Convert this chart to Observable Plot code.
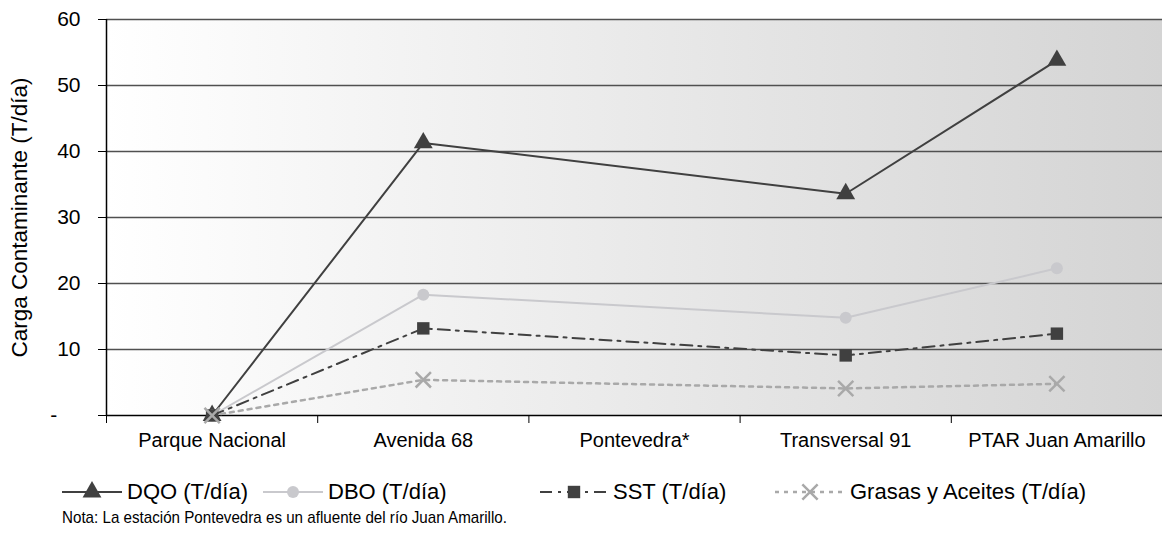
<!DOCTYPE html>
<html><head><meta charset="utf-8">
<script src="https://cdn.jsdelivr.net/npm/d3@7"></script>
<script src="https://cdn.jsdelivr.net/npm/@observablehq/plot@0.6"></script>
<style>
body{margin:0;background:#fff;font-family:"Liberation Sans",Arial,sans-serif;}
#wrap{position:relative;width:1162px;height:543px;overflow:hidden;}
#chart{position:absolute;left:0;top:0;}
.leg{position:absolute;top:478px;height:28px;display:flex;align-items:center;font-size:22px;color:#000;white-space:nowrap;}
.leg svg{display:block;margin-right:5px;}
#note{position:absolute;left:62px;top:508px;font-family:"Liberation Sans Narrow","Liberation Sans",Arial,sans-serif;font-size:17px;color:#000;white-space:nowrap;transform-origin:0 0;}
</style>
</head><body><div id="wrap"><div id="chart"></div><div id="legend"></div><div id="note"></div></div>
<script>
const categories = ["Parque Nacional", "Avenida 68", "Pontevedra*", "Transversal 91", "PTAR Juan Amarillo"];
const seriesNames = ["DQO (T/día)", "DBO (T/día)", "SST (T/día)", "Grasas y Aceites (T/día)"];
const dqo = [0, 41.3, null, 33.6, 53.8];
const dbo = [0, 18.3, null, 14.8, 22.3];
const sst = [0, 13.2, null, 9.1, 12.4];
const grasas = [0, 5.4, null, 4.1, 4.8];
const yTicks = [0, 10, 20, 30, 40, 50, 60];
const yLabel = "Carga Contaminante (T/día)";
const noteText = "Nota: La estación Pontevedra es un afluente del río Juan Amarillo.";

const styles = [
  {stroke: "#404040", width: 2, dash: null, symbol: "triangle", fill: "#404040", r: 7, legLeft: 62, legW: 60},
  {stroke: "#c9c9cd", width: 2, dash: null, symbol: "circle", fill: "#c9c9cd", r: 6, legLeft: 263, legW: 60},
  {stroke: "#404040", width: 2, dash: "12,6,3,6", symbol: "square", fill: "#404040", r: 7, legLeft: 540, legW: 68},
  {stroke: "#a9a9a9", width: 2.5, dash: "4,5", symbol: "times", fill: "none", r: 7, legLeft: 775, legW: 70}
];
const allSeries = [dqo, dbo, sst, grasas];

const rows = [];
allSeries.forEach((vals, s) => vals.forEach((v, i) => {
  if (v != null) rows.push({series: seriesNames[s], si: s, xi: i, cat: categories[i], value: v});
}));

const centers = categories.map((_, i) => i);
const bounds = d3.range(categories.length + 1).map(i => i - 0.5);

const defsMark = () => {
  const defs = d3.create("svg:defs");
  const g = defs.append("linearGradient").attr("id", "bggrad").attr("x1", "0").attr("x2", "1").attr("y1", "0").attr("y2", "0");
  g.append("stop").attr("offset", "0%").attr("stop-color", "#ffffff");
  g.append("stop").attr("offset", "100%").attr("stop-color", "#d4d4d4");
  return defs.node();
};

const marks = [
  defsMark,
  Plot.frame({fill: "url(#bggrad)", stroke: "none"}),
  Plot.ruleY(yTicks.filter(d => d > 0), {stroke: "#505050", strokeWidth: 1.5}),
  Plot.axisY(yTicks, {tickSize: 8, tickPadding: 18, tickFormat: d => d === 0 ? "-\u2007\u2007" : d, fontSize: 21, stroke: "#000", label: null}),
  Plot.axisX(bounds, {tickSize: 8, tickFormat: () => "", stroke: "#000", label: null}),
  Plot.axisX(centers, {tickSize: 0, tickPadding: 17, tickFormat: i => categories[i], fontSize: 20, label: null}),
  Plot.ruleX([-0.5], {stroke: "#000", strokeWidth: 1.5}),
  Plot.ruleY([0], {stroke: "#000", strokeWidth: 1.5}),
  Plot.text([yLabel], {frameAnchor: "left", textAnchor: "middle", rotate: -90, dx: -87, fontSize: 22.5, fill: "#000"})
];
styles.forEach((st, s) => {
  const data = rows.filter(d => d.si === s);
  marks.push(Plot.line(data, {x: "xi", y: "value", stroke: st.stroke, strokeWidth: st.width, strokeDasharray: st.dash}));
});
styles.forEach((st, s) => {
  const data = rows.filter(d => d.si === s);
  if (st.symbol === "times") {
    marks.push(Plot.dot(data, {x: "xi", y: "value", symbol: "times", r: st.r, stroke: st.stroke, strokeWidth: 2.5, fill: "none"}));
  } else {
    marks.push(Plot.dot(data, {x: "xi", y: "value", symbol: st.symbol, r: st.r, fill: st.fill, stroke: "none"}));
  }
});

const chart = Plot.plot({
  width: 1162,
  height: 465,
  marginLeft: 106,
  marginRight: 0,
  marginTop: 19,
  marginBottom: 50,
  style: {fontFamily: "'Liberation Sans', Arial, sans-serif", color: "#000", background: "transparent", overflow: "visible"},
  x: {type: "linear", domain: [-0.5, categories.length - 0.5], axis: null},
  y: {domain: [0, 60], axis: null},
  marks
});
document.getElementById("chart").appendChild(chart);

// legend
const legend = document.getElementById("legend");
styles.forEach((st, s) => {
  const div = document.createElement("div");
  div.className = "leg";
  div.style.left = st.legLeft + "px";
  const w = st.legW;
  const svg = d3.create("svg").attr("width", w).attr("height", 24);
  svg.append("line").attr("x1", 0).attr("x2", w).attr("y1", 12).attr("y2", 12)
    .attr("stroke", st.stroke).attr("stroke-width", st.width).attr("stroke-dasharray", st.dash);
  const sym = {triangle: d3.symbolTriangle, circle: d3.symbolCircle, square: d3.symbolSquare, times: d3.symbolTimes}[st.symbol];
  const path = svg.append("path").attr("transform", `translate(${w/2},12)`)
    .attr("d", d3.symbol(sym, Math.PI * st.r * st.r)());
  if (st.symbol === "times") path.attr("stroke", st.stroke).attr("stroke-width", 2.5).attr("fill", "none");
  else path.attr("fill", st.fill);
  div.appendChild(svg.node());
  const span = document.createElement("span");
  span.textContent = seriesNames[s];
  div.appendChild(span);
  legend.appendChild(div);
});
const note = document.getElementById("note");
note.textContent = noteText;
const nw = note.getBoundingClientRect().width;
note.style.transform = `scaleX(${445 / nw})`;
</script>
</body></html>
